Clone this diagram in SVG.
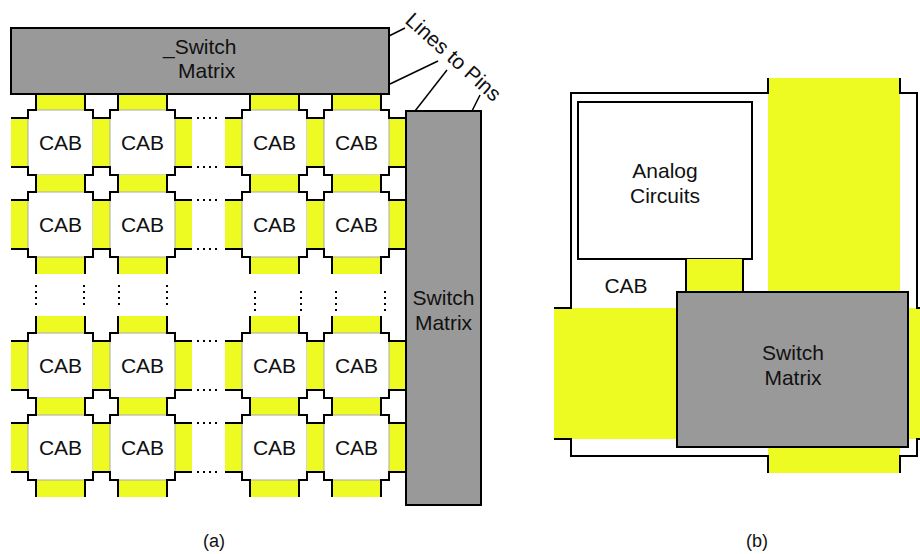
<svg xmlns="http://www.w3.org/2000/svg" width="920" height="554" viewBox="0 0 920 554">
<style>
text{font-family:"Liberation Sans",Arial,sans-serif;font-size:21px;fill:#111}
.c{text-anchor:middle}
.y{fill:#eefb22}
.sm{fill:#999;stroke:#000;stroke-width:2}
.ol{fill:none;stroke:#000;stroke-width:2}
.ln{fill:none;stroke:#000;stroke-width:1.5}
.dh{stroke:#000;stroke-width:2;stroke-dasharray:2 4}
</style>
<defs>
<g id="tile">
<rect class="y" x="8" y="-17" width="49" height="17"/>
<rect class="y" x="8" y="65" width="49" height="17"/>
<rect class="y" x="-17" y="8" width="17" height="49"/>
<rect class="y" x="65" y="8" width="17" height="49"/>
<rect x="0" y="0" width="65" height="65" fill="#fff" stroke="#aaa" stroke-width="1"/>
<path class="ol" d="M-17,8H0V0H8V-17M57,-17V0H65V8H82M82,57H65V65H57V82M8,82V65H0V57H-17"/>
</g>
</defs>

<g id="panel-a">
<g id="cab-r1c1"><use href="#tile" x="28" y="110"/><text class="c" x="60.5" y="150">CAB</text></g>
<g id="cab-r1c2"><use href="#tile" x="110" y="110"/><text class="c" x="142.5" y="150">CAB</text></g>
<g id="cab-r1c3"><use href="#tile" x="242" y="110"/><text class="c" x="274.5" y="150">CAB</text></g>
<g id="cab-r1c4"><use href="#tile" x="324" y="110"/><text class="c" x="356.5" y="150">CAB</text></g>
<g id="cab-r2c1"><use href="#tile" x="28" y="192"/><text class="c" x="60.5" y="232">CAB</text></g>
<g id="cab-r2c2"><use href="#tile" x="110" y="192"/><text class="c" x="142.5" y="232">CAB</text></g>
<g id="cab-r2c3"><use href="#tile" x="242" y="192"/><text class="c" x="274.5" y="232">CAB</text></g>
<g id="cab-r2c4"><use href="#tile" x="324" y="192"/><text class="c" x="356.5" y="232">CAB</text></g>
<g id="cab-r3c1"><use href="#tile" x="28" y="333"/><text class="c" x="60.5" y="373">CAB</text></g>
<g id="cab-r3c2"><use href="#tile" x="110" y="333"/><text class="c" x="142.5" y="373">CAB</text></g>
<g id="cab-r3c3"><use href="#tile" x="242" y="333"/><text class="c" x="274.5" y="373">CAB</text></g>
<g id="cab-r3c4"><use href="#tile" x="324" y="333"/><text class="c" x="356.5" y="373">CAB</text></g>
<g id="cab-r4c1"><use href="#tile" x="28" y="415"/><text class="c" x="60.5" y="455">CAB</text></g>
<g id="cab-r4c2"><use href="#tile" x="110" y="415"/><text class="c" x="142.5" y="455">CAB</text></g>
<g id="cab-r4c3"><use href="#tile" x="242" y="415"/><text class="c" x="274.5" y="455">CAB</text></g>
<g id="cab-r4c4"><use href="#tile" x="324" y="415"/><text class="c" x="356.5" y="455">CAB</text></g>

<g id="ellipses">
<line class="dh" x1="197" y1="118" x2="219" y2="118"/>
<line class="dh" x1="197" y1="167" x2="219" y2="167"/>
<line class="dh" x1="197" y1="200" x2="219" y2="200"/>
<line class="dh" x1="197" y1="249" x2="219" y2="249"/>
<line class="dh" x1="197" y1="341" x2="219" y2="341"/>
<line class="dh" x1="197" y1="390" x2="219" y2="390"/>
<line class="dh" x1="197" y1="423" x2="219" y2="423"/>
<line class="dh" x1="197" y1="472" x2="219" y2="472"/>
<line class="dh" x1="36" y1="285" x2="36" y2="307"/>
<line class="dh" x1="84" y1="285" x2="84" y2="307"/>
<line class="dh" x1="119" y1="285" x2="119" y2="307"/>
<line class="dh" x1="167" y1="285" x2="167" y2="307"/>
<line class="dh" x1="255" y1="291" x2="255" y2="313"/>
<line class="dh" x1="301" y1="291" x2="301" y2="313"/>
<line class="dh" x1="336" y1="291" x2="336" y2="313"/>
<line class="dh" x1="385" y1="291" x2="385" y2="313"/>
</g>

<g id="switch-top">
<rect class="sm" x="11" y="28" width="378" height="66"/>
<text x="163" y="54">_Switch</text>
<text x="178" y="78">Matrix</text>
</g>
<g id="switch-right">
<rect class="sm" x="406" y="111" width="75" height="394"/>
<text class="c" x="443.5" y="305">Switch</text>
<text class="c" x="443.5" y="330">Matrix</text>
</g>

<g id="connectors">
<line class="ln" x1="389" y1="36" x2="405" y2="28"/>
<line class="ln" x1="390" y1="84" x2="438" y2="61"/>
<line class="ln" x1="415" y1="111" x2="447" y2="70"/>
<line class="ln" x1="472" y1="111" x2="480" y2="95"/>
</g>
<g id="label-pins"><text transform="translate(404,22) rotate(42)">Lines to Pins</text></g>
<text class="c" x="214" y="547" style="font-size:18px">(a)</text>
</g>

<g id="panel-b">
<g id="routing">
<rect class="y" x="768" y="78" width="132" height="215"/>
<rect class="y" x="554" y="308" width="124" height="131"/>
<rect class="y" x="907" y="308" width="13" height="131"/>
<rect class="y" x="768" y="446" width="132" height="27"/>
</g>
<g id="cab-outline">
<path class="ol" d="M554,308H571V93H768V78M900,78V93H917V308H920M920,439H917V456H900V473M768,473V456H571V439H554"/>
<text class="c" x="626" y="293">CAB</text>
</g>
<g id="analog">
<rect x="578" y="102" width="174" height="157" fill="#fff" stroke="#000" stroke-width="2"/>
<text class="c" x="665" y="178">Analog</text>
<text class="c" x="665" y="203">Circuits</text>
</g>
<g id="link">
<rect class="y" x="686" y="259" width="57" height="33"/>
<path class="ol" d="M686,259V292M743,259V292"/>
</g>
<g id="switch-b">
<rect class="sm" x="677" y="292" width="231" height="155"/>
<text class="c" x="793" y="360">Switch</text>
<text class="c" x="793" y="385">Matrix</text>
</g>
<text class="c" x="757" y="547" style="font-size:18px">(b)</text>
</g>
</svg>
